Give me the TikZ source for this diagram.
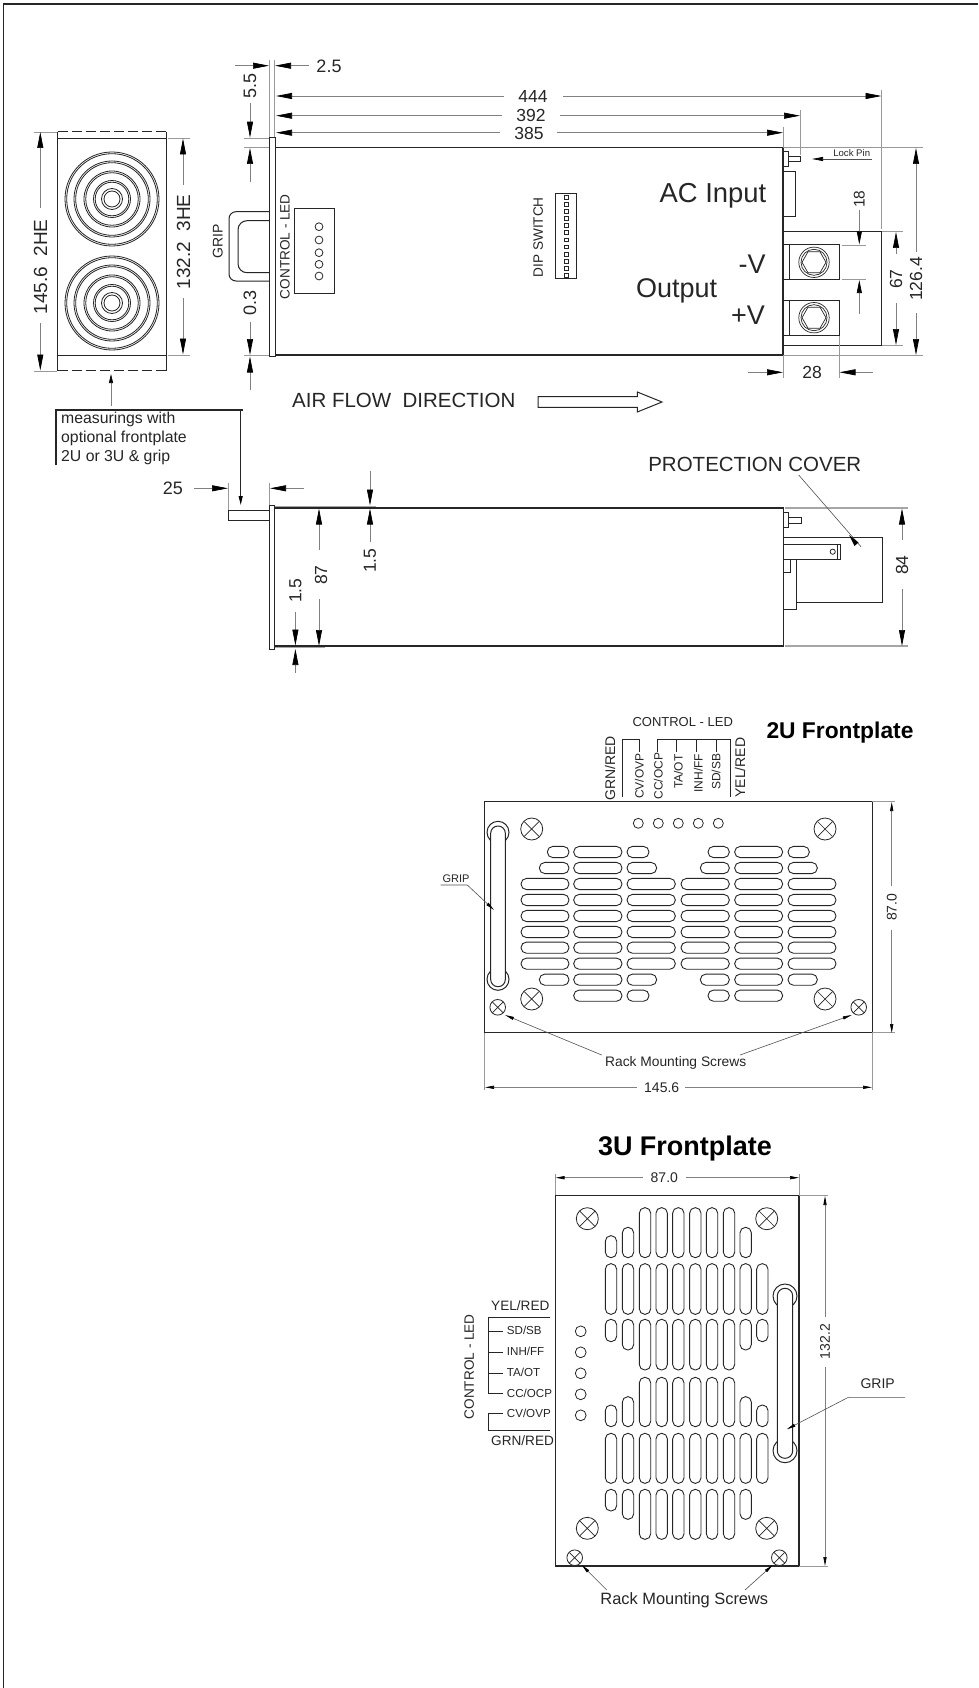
\documentclass[tikz,border=0pt]{standalone}
\usepackage{fontspec}
\setmainfont{Liberation Sans}
\usetikzlibrary{arrows.meta}
\definecolor{ink}{HTML}{262626}
\definecolor{dimc}{HTML}{808080}
\newcommand{\fsz}[1]{\fontsize{#1}{#1}\selectfont}
\tikzset{
  x=1pt,y=-1pt,
  obj/.style={draw=ink,line width=1pt},
  thick obj/.style={draw=ink,line width=1.4pt},
  dimline/.style={draw=dimc,line width=0.7pt},
  ext/.style={draw=dimc!80,line width=0.7pt},
  big/.style={dimline,-{Triangle[length=16pt,width=6pt,black]}},
  mid/.style={dimline,-{Triangle[length=13pt,width=5pt,black]}},
  small/.style={dimline,-{Triangle[length=9pt,width=3.2pt,black]}},
  lead/.style={draw=ink!80,line width=0.6pt,-{Triangle[length=9pt,width=3pt,black]}},
  lbl/.style={inner sep=0pt,text=ink},
  slot/.style={draw=ink,line width=0.9pt,fill=white},
}
\newcommand{\hslot}[3]{\draw[slot,rounded corners=5.5pt] ({420+#1/3},{700+#3/3-5.6}) rectangle ({420+#2/3},{700+#3/3+5.6});}
\newcommand{\vslot}[3]{\draw[slot,rounded corners=5.5pt] ({440+#1/3-5.7},{1120+#2/3}) rectangle ({440+#1/3+5.7},{1120+#3/3});}
\newcommand{\screw}[3]{\draw[obj,fill=white,line width=0.8pt] (#1,#2) circle[radius=#3];
  \draw[ink,line width=0.7pt] ({#1-0.68*#3},{#2-0.68*#3}) -- ({#1+0.68*#3},{#2+0.68*#3}) ({#1-0.68*#3},{#2+0.68*#3}) -- ({#1+0.68*#3},{#2-0.68*#3});}
\newcommand{\rings}[2]{\foreach \r in {47,45.3,38,36.3,28,26.3,18.5,16.8,10.5,8}{\draw[ink,line width=0.8pt] (#1,#2) circle[radius=\r];}}
\newcommand{\bolt}[2]{\draw[ink,line width=0.7pt] (#1,#2) circle[radius=15.2] (#1,#2) circle[radius=13];
  \draw[ink,line width=0.7pt] ({#1-12},#2) -- ({#1-6},{#2-10.5}) -- ({#1+6},{#2-10.5}) -- ({#1+12},#2) -- ({#1+6},{#2+10.5}) -- ({#1-6},{#2+10.5}) -- cycle;}
\begin{document}
\begin{tikzpicture}
\useasboundingbox (0,0) rectangle (978,1688);
\fill[white] (0,0) rectangle (978,1688);
% frame
\draw[black!85,line width=1.3pt] (3.7,1688) -- (3.7,4) -- (978,4);

% ---------- left end view
\draw[thick obj,dashed,dash pattern=on 10pt off 4pt] (57.5,131.7) -- (166.5,131.7);
\draw[thick obj,dashed,dash pattern=on 10pt off 4pt] (57.5,370.7) -- (166.5,370.7);
\draw[obj] (57.5,131.7) -- (57.5,370.7) (166.5,131.7) -- (166.5,370.7);
\draw[obj] (57.5,138.3) -- (166.5,138.3) (57.5,355) -- (166.5,355);
\rings{112}{199}
\rings{112}{303}
\draw[ext] (34,132) -- (57,132) (34,371) -- (57,371);
\draw[big] (40.3,208) -- (40.3,132);
\draw[big] (40.3,323) -- (40.3,370.5);
\node[lbl,rotate=90,font=\fsz{19}] (n2he) at (40.7,267) {145.6\ \ 2HE};
\draw[ext] (168,138) -- (190,138) (168,355) -- (190,355);
\draw[big] (183,185) -- (183,138.5);
\draw[big] (183,298) -- (183,354.5);
\node[lbl,rotate=90,font=\fsz{19}] (n3he) at (183.5,242) {132.2\ \ 3HE};
\draw[dimline,-{Triangle[length=9pt,width=4pt,black]}] (111,405.7) -- (111,374);
% measurings box
\draw[ink,line width=1.6pt] (56,465) -- (56,410) -- (242.5,410);
\node[lbl,anchor=west,font=\fsz{15.8}] (mea1) at (61,419.5) {measurings with};
\node[lbl,anchor=west,font=\fsz{15.8}] (mea2) at (61,438.5) {optional frontplate};
\node[lbl,anchor=west,font=\fsz{15.8}] (mea3) at (61,457.5) {2U or 3U \& grip};
\draw[ink,line width=1pt,-{Triangle[length=9pt,width=4pt,black]}] (240.7,411) -- (240.7,505);

% ---------- top view
\draw[ext] (269.3,60) -- (269.3,137) (274.5,60) -- (274.5,148);
\draw[big] (235,65.7) -- (269,65.7);
\draw[big] (309,65.7) -- (275,65.7);
\node[lbl,font=\fsz{18}] (d25a) at (329,66) {2.5};
\draw[big] (250,103) -- (250,137.7);
\node[lbl,rotate=90,font=\fsz{18}] (d55) at (250,86) {5.5};
\draw[ext] (244,138) -- (269,138) (244,147.7) -- (275,147.7) (244,355.5) -- (269,355.5);
\draw[big] (250,182) -- (250,148);
\node[lbl,rotate=90,font=\fsz{18}] (d03) at (250,303) {0.3};
\draw[big] (250,322) -- (250,355);
\draw[big] (250,390) -- (250,356.5);
% dims 444/392/385
\draw[big] (504,96) -- (276,96);
\draw[big] (563,96) -- (881.5,96);
\node[lbl,font=\fsz{17.5}] (d444) at (533,96) {444};
\draw[big] (502,115.7) -- (276,115.7);
\draw[big] (560,115.7) -- (800,115.7);
\node[lbl,font=\fsz{17.5}] (d392) at (531,115.7) {392};
\draw[big] (500,132.7) -- (276,132.7);
\draw[big] (557,132.7) -- (783,132.7);
\node[lbl,font=\fsz{17.5}] (d385) at (529,133) {385};
\draw[ext] (783,127) -- (783,147) (800,110) -- (800,155) (881.7,90) -- (881.7,229);
% body
\draw[obj,fill=white] (269.3,137.7) rectangle (275,356.7);
\draw[thick obj] (275,147.7) -- (783,147.7) -- (783,355) -- (275,355);
% grip
\draw[obj] (269,211.7) -- (238,211.7) [rounded corners=7pt] -- (229,211.7) -- (229,281) [sharp corners] -- (269,281);
\draw[obj] (269,220.7) [rounded corners=9pt] -- (238,220.7) -- (238,272.7) [sharp corners] -- (269,272.7);
\node[lbl,rotate=90,font=\fsz{14}] (grip0) at (217.7,241.7) {GRIP};
\node[lbl,rotate=90,font=\fsz{13.6}] (ctl0) at (285,246.7) {CONTROL - LED};
\draw[obj] (294.7,209) rectangle (334,293);
\foreach \yy in {226.7,240,252.7,264.3,276}{\draw[ink,line width=0.8pt] (319,\yy) circle[radius=3.9];}
% dip
\draw[obj] (555.7,194) rectangle (576,278);
\foreach \i in {0,...,11}{\draw[ink,line width=0.7pt] ({564},{197.2+\i*7.1-1.9}) rectangle ({568},{197.2+\i*7.1+1.9});}
\node[lbl,rotate=90,font=\fsz{13.6}] (dipl) at (538.3,237.3) {DIP SWITCH};
% lock pin, AC
\draw[obj] (783,151.7) rectangle (788,167);
\draw[obj] (788,157) rectangle (800.5,162);
\draw[lead,line width=0.7pt,-{Triangle[length=11pt,width=4pt,black]}] (871.7,159) -- (812,159);
\node[lbl,font=\fsz{9.6}] (lockp) at (851.7,153) {Lock Pin};
\draw[obj] (783,172) -- (795.5,172) -- (795.5,217) -- (783,217);
\node[lbl,font=\fsz{27.4}] (acin) at (713,196) {AC Input};
% cover & terminals
\draw[obj] (783,231.7) -- (881.7,231.7) -- (881.7,345) -- (783,345);
\draw[obj] (783,245) rectangle (839,279.3);
\draw[obj] (783,300.7) rectangle (839,335.7);
\draw[obj] (789.3,245) -- (789.3,279.3) (789.3,300.7) -- (789.3,335.7);
\bolt{814}{262.3}
\bolt{814}{317.7}
\node[lbl,font=\fsz{27}] (mv) at (752,264) {-V};
\node[lbl,font=\fsz{27}] (pv) at (748,315) {+V};
\node[lbl,font=\fsz{27}] (outp) at (676.7,290.5) {Output};
% 18
\draw[ext] (841.7,245) -- (866,245) (841.7,279.3) -- (866,279.3);
\draw[mid] (859.3,210) -- (859.3,244.5);
\draw[mid] (859.3,314) -- (859.3,280);
\node[lbl,rotate=90,font=\fsz{15.5}] (d18) at (859.3,199.3) {18};
% 67
\draw[ext] (882,231.7) -- (903,231.7) (882,345) -- (903,345);
\draw[big] (896,254) -- (896,232);
\draw[big] (896,303) -- (896,345);
\node[lbl,rotate=90,font=\fsz{17.5}] (d67) at (896,279) {67};
% 126.4
\draw[ext] (783,147.7) -- (923,147.7) (783,355) -- (923,355);
\draw[big] (916,252) -- (916,148);
\draw[big] (916,313) -- (916,355);
\node[lbl,rotate=90,font=\fsz{17.5}] (d126) at (916,279) {126.4};
% 28
\draw[ext] (783,355) -- (783,378) (839,336) -- (839,378);
\draw[big] (748,372.3) -- (783,372.3);
\draw[big] (873,372.3) -- (839.5,372.3);
\node[lbl,font=\fsz{17.5}] (d28) at (812,372.3) {28};
% air flow
\node[lbl,anchor=west,font=\fsz{20.5}] (air) at (292,400) {AIR FLOW\ \ DIRECTION};
\draw[obj] (538,396.7) -- (637.3,396.7) -- (637.3,392) -- (662,402) -- (637.3,412) -- (637.3,407.3) -- (538,407.3) -- cycle;

% ---------- side view
\node[lbl,font=\fsz{20.5}] (prot) at (754.8,464) {PROTECTION COVER};
\draw[dimc!70,line width=2pt] (275,506.5) -- (376,506.5) (275,646.7) -- (325,646.7) (785,508) -- (908,508) (785,646) -- (908,646);
\draw[ext] (228.5,483) -- (228.5,510) (269.3,483) -- (269.3,505);
\draw[big] (194,488.3) -- (228,488.3);
\draw[big] (304,488.3) -- (270,488.3);
\node[lbl,font=\fsz{18}] (d25) at (173,488.3) {25};
\draw[obj] (228.3,510.7) rectangle (269.5,520.3);
\draw[obj,fill=white] (269.5,505.6) rectangle (274.8,649);
\draw[thick obj] (274.8,508) -- (783.5,508) -- (783.5,646) -- (274.8,646);
\draw[obj] (783.5,512.7) rectangle (788.3,527.7);
\draw[obj] (788.3,517) rectangle (801,523);
\draw[obj] (783.5,537.3) -- (882,537.3) -- (882,602) -- (796,602);
\draw[obj] (783.5,544) -- (840,544) -- (840,559) -- (783.5,559);
\draw[ink,line width=0.6pt] (837,544) -- (837,559);
\draw[ink,line width=0.8pt] (832.7,551.7) circle[radius=2.6];
\draw[obj] (783.5,559.3) -- (796,559.3) -- (796,609.3) -- (783.5,609.3);
\draw[ink,line width=0.7pt] (790,559.3) -- (790,572.3) -- (783.5,572.3);
\draw[ink!80,line width=0.6pt] (798.7,475) -- (861,546.7);
\fill[black] (849,535) -- (854.5,546) -- (858.5,542.5) -- cycle;
% side dims
\draw[big] (370,470.7) -- (370,505.5);
\draw[big] (370,541.7) -- (370,508.5);
\node[lbl,rotate=90,font=\fsz{17.5}] (s15a) at (370,560.7) {1.5};
\draw[big] (319,550) -- (319,508.5);
\draw[big] (319,599) -- (319,646);
\node[lbl,rotate=90,font=\fsz{17.5}] (s87) at (321,575) {87};
\draw[big] (295.4,611.7) -- (295.4,645.5);
\draw[big] (295.4,673) -- (295.4,649);
\node[lbl,rotate=90,font=\fsz{17.5}] (s15b) at (295.4,590.7) {1.5};
\draw[big] (902,540) -- (902,508.5);
\draw[big] (902,589) -- (902,646);
\node[lbl,rotate=90,font=\fsz{17.5}] (s84) at (902,565) {84};

% ---------- 2U frontplate
\node[lbl,text=black,font=\bfseries\fsz{22.8}] (t2u) at (840,733) {2U Frontplate};
\node[lbl,font=\fsz{13}] (c2u) at (682.7,721.7) {CONTROL - LED};
\draw[ink,line width=0.8pt] (622,797) -- (622,739) -- (639,739) -- (639,751.7);
\draw[ink,line width=0.8pt] (657.3,751.7) -- (657.3,739) -- (730.3,739) -- (730.3,796.7);
\draw[ink,line width=0.8pt] (676.7,739) -- (676.7,751.7) (696.7,739) -- (696.7,751.7) (716.7,739) -- (716.7,751.7);
\node[lbl,rotate=90,font=\fsz{14}] (g2u) at (610,768.5) {GRN/RED};
\node[lbl,rotate=90,font=\fsz{14}] (y2u) at (740,767.5) {YEL/RED};
\node[lbl,rotate=90,font=\fsz{12}] (a2u) at (639.3,776) {CV/OVP};
\node[lbl,rotate=90,font=\fsz{12}] (b2u) at (658.3,776) {CC/OCP};
\node[lbl,rotate=90,font=\fsz{12}] (e2u) at (678.3,771.7) {TA/OT};
\node[lbl,rotate=90,font=\fsz{12}] (f2u) at (698.3,773) {INH/FF};
\node[lbl,rotate=90,font=\fsz{12}] (h2u) at (716,771.7) {SD/SB};
\draw[ink,line width=1.2pt] (484.3,801.7) rectangle (872.3,1032.7);
\foreach \xx in {638.3,658.3,678.3,698.3,718.3}{\draw[ink,line width=0.8pt] (\xx,823.3) circle[radius=5];}
\draw[obj] (498,832.3) circle[radius=11] (498,979.3) circle[radius=11];
\draw[obj,fill=white,rounded corners=7.2pt] (490.7,826) rectangle (505.3,986.7);
\screw{531.7}{829}{11}
\screw{825}{829}{11}
\screw{531.7}{999}{11}
\screw{825}{999}{11}
\screw{497.7}{1007.3}{7.8}
\screw{858.7}{1007.3}{7.8}
% slots 2U
\foreach \r in {552,600,648,696,743,791}{
  \hslot{303}{447}{\r}\hslot{621}{766}{\r}\hslot{783}{928}{\r}\hslot{1104}{1248}{\r}}
\foreach \r in {456,504,552,600,648,696,743,791,839,887}{
  \hslot{461}{606}{\r}\hslot{944}{1088}{\r}}
\hslot{382}{447}{456}\hslot{358}{447}{504}\hslot{358}{447}{839}
\hslot{621}{687}{456}\hslot{621}{710}{504}\hslot{621}{710}{839}\hslot{621}{687}{887}
\hslot{864}{928}{456}\hslot{841}{928}{504}\hslot{841}{928}{839}\hslot{864}{928}{887}
\hslot{1104}{1168}{456}\hslot{1104}{1192}{504}\hslot{1104}{1192}{839}
% labels 2U
\node[lbl,font=\fsz{11}] (grip2) at (456,878.3) {GRIP};
\draw[lead] (440.7,885) -- (467.3,885) -- (494,910);
\node[lbl,font=\fsz{13.8}] (rack2) at (675.7,1063) {Rack Mounting Screws};
\draw[lead] (601.7,1055) -- (505,1015);
\draw[lead] (740,1055) -- (851.7,1015);
\draw[ext] (872.3,801.7) -- (895,801.7) (872.3,1032.7) -- (895,1032.7);
\draw[small] (891.7,886) -- (891.7,802);
\draw[small] (891.7,930) -- (891.7,1033);
\node[lbl,rotate=90,font=\fsz{14}] (h87) at (891.7,907.3) {87.0};
\draw[ext] (484.3,1033) -- (484.3,1090) (872.3,1033) -- (872.3,1090);
\draw[small] (636.7,1087.3) -- (485,1087.3);
\draw[small] (685,1087.3) -- (872,1087.3);
\node[lbl,font=\fsz{14}] (w145) at (661.7,1087.3) {145.6};

% ---------- 3U frontplate
\node[lbl,text=black,font=\bfseries\fsz{27}] (t3u) at (685,1148.5) {3U Frontplate};
\draw[ext] (555.3,1174) -- (555.3,1195) (799,1174) -- (799,1195);
\draw[small] (643,1177.7) -- (555.5,1177.7);
\draw[small] (686,1177.7) -- (799,1177.7);
\node[lbl,font=\fsz{14}] (w87) at (664.3,1177.7) {87.0};
\draw[ink,line width=1.2pt] (555.3,1195.7) rectangle (799,1566);
\draw[ext] (799,1195.7) -- (828,1195.7) (799,1566) -- (828,1566);
\draw[small] (825,1316.7) -- (825,1196);
\draw[small] (825,1367) -- (825,1566);
\node[lbl,rotate=90,font=\fsz{14}] (h132) at (825,1341.7) {132.2};
% LEDs & labels
\foreach \yy in {1331.3,1352.3,1373.3,1394.3,1415.3}{\draw[ink,line width=0.8pt] (580.7,\yy) circle[radius=5.4];}
\node[lbl,anchor=west,font=\fsz{13.6}] (y3u) at (491,1306) {YEL/RED};
\node[lbl,anchor=west,font=\fsz{13.6}] (g3u) at (491,1440.7) {GRN/RED};
\node[lbl,anchor=west,font=\fsz{11.6}] (a3u) at (506.7,1330.7) {SD/SB};
\node[lbl,anchor=west,font=\fsz{11.6}] (b3u) at (506.7,1351.7) {INH/FF};
\node[lbl,anchor=west,font=\fsz{11.6}] (e3u) at (506.7,1372.7) {TA/OT};
\node[lbl,anchor=west,font=\fsz{11.6}] (f3u) at (506.7,1393.7) {CC/OCP};
\node[lbl,anchor=west,font=\fsz{11.6}] (h3u) at (506.7,1413.7) {CV/OVP};
\draw[ink,line width=0.8pt] (550,1317.3) -- (488.3,1317.3) -- (488.3,1393.3) -- (502.7,1393.3);
\draw[ink,line width=0.8pt] (488.3,1331.3) -- (502.7,1331.3) (488.3,1352.3) -- (502.7,1352.3) (488.3,1373) -- (502.7,1373);
\draw[ink,line width=0.8pt] (502.7,1413.3) -- (488.3,1413.3) -- (488.3,1430.7) -- (550,1430.7);
\node[lbl,rotate=90,font=\fsz{13.6}] (c3u) at (469.3,1366.7) {CONTROL - LED};
% slots 3U
\foreach \c in {513,564,615,665,715,766,816,867,917,967}{\vslot{\c}{431}{583}\vslot{\c}{940}{1090}}
\foreach \c in {615,665,715,766,816,867}{\vslot{\c}{263}{413}\vslot{\c}{598}{750}\vslot{\c}{772}{920}\vslot{\c}{1108}{1258}}
\vslot{513}{347}{413}\vslot{564}{322}{413}\vslot{917}{322}{413}
\vslot{513}{598}{665}\vslot{564}{598}{690}\vslot{917}{598}{690}\vslot{967}{598}{665}
\vslot{513}{855}{920}\vslot{564}{830}{920}\vslot{917}{830}{920}\vslot{967}{855}{920}
\vslot{513}{1108}{1173}\vslot{564}{1108}{1198}\vslot{917}{1108}{1198}
% grip 3U
\draw[obj] (785,1296) circle[radius=12] (785,1450.7) circle[radius=12];
\draw[obj,fill=white,rounded corners=7.6pt] (777.3,1288.3) rectangle (792.7,1458.3);
\screw{587.3}{1218.7}{11}
\screw{766.7}{1218.7}{11}
\screw{587.3}{1528.3}{11}
\screw{766.7}{1528.3}{11}
\screw{574.7}{1557.7}{7.8}
\screw{779.3}{1557.7}{7.8}
\node[lbl,font=\fsz{14}] (grip3) at (877.7,1384) {GRIP};
\draw[lead] (905,1397.3) -- (848.3,1397.3) -- (786.7,1429.3);
\node[lbl,font=\fsz{16.4}] (rack3) at (684.3,1600) {Rack Mounting Screws};
\draw[lead] (606.7,1590) -- (581.7,1565);
\draw[lead] (745,1590) -- (772.7,1565);
\end{tikzpicture}
\end{document}
